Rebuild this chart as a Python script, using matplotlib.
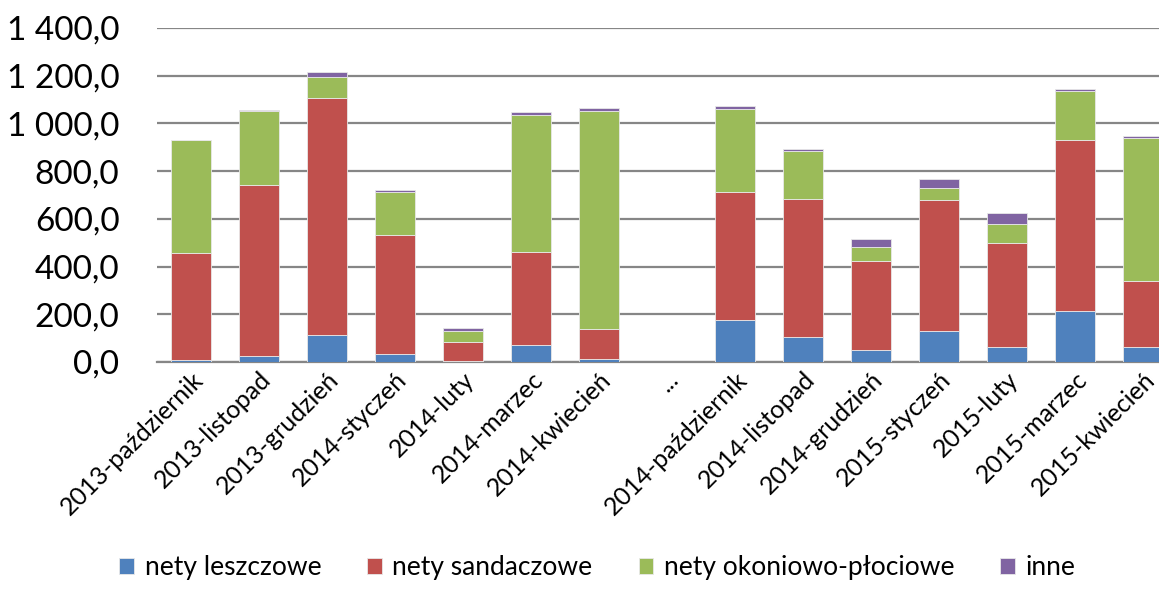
import matplotlib
matplotlib.use('Agg')
import matplotlib.pyplot as plt
import matplotlib.ticker as mticker
import numpy as np

plt.rcParams['font.family'] = ['Lato', 'DejaVu Sans']

# data
months = ['2013-październik', '2013-listopad', '2013-grudzień', '2014-styczeń',
          '2014-luty', '2014-marzec', '2014-kwiecień', '...',
          '2014-październik', '2014-listopad', '2014-grudzień', '2015-styczeń',
          '2015-luty', '2015-marzec', '2015-kwiecień']
leszczowe = [8, 25, 113, 32, 3, 70, 14, 0, 176, 105, 52, 131, 62, 213, 62]
sandaczowe = [447, 715, 993, 502, 82, 393, 126, 0, 537, 580, 373, 546, 436, 716, 276]
okoniowo = [474, 313, 90, 179, 46, 573, 913, 0, 349, 200, 56, 54, 81, 207, 599]
inne = [2, 2, 19, 10, 12, 10, 10, 0, 9, 9, 35, 37, 45, 8, 9]

series = [('nety leszczowe', leszczowe, '#4F81BD'),
          ('nety sandaczowe', sandaczowe, '#C0504D'),
          ('nety okoniowo-płociowe', okoniowo, '#9BBB59'),
          ('inne', inne, '#8064A2')]

fig = plt.figure(figsize=(11.59, 5.89), dpi=100)
ax = fig.add_axes([157 / 1159, 227 / 589, 1020 / 1159, 334 / 589])

x = np.arange(len(months))
bottom = np.zeros(len(months))
for name, vals, col in series:
    vals = np.array(vals, dtype=float)
    ax.bar(x, vals, 0.6, bottom=bottom, color=col, label=name,
           edgecolor='#e8e8e8', linewidth=0.6, zorder=3)
    bottom += vals

ax.set_xlim(-0.5, len(months) - 0.5)
ax.set_ylim(0, 1400)
ax.yaxis.set_major_locator(mticker.MultipleLocator(200))
ax.yaxis.set_major_formatter(mticker.FuncFormatter(
    lambda v, p: ('{:,.1f}'.format(v)).replace(',', ' ').replace('.', ',')))
ax.grid(axis='y', color='#868686', linewidth=1.6, zorder=0)
for s in ['top', 'right', 'left']:
    ax.spines[s].set_visible(False)
ax.spines['bottom'].set_color('#868686')
ax.spines['bottom'].set_linewidth(1.6)
ax.tick_params(axis='y', length=0, labelsize=24, pad=27)
ax.tick_params(axis='x', length=0, labelsize=18, pad=4)
ax.set_xticks(x)
ax.set_xticklabels(months, rotation=45, ha='right', rotation_mode='anchor')

fig.legend(loc='lower center', ncol=4, frameon=False, fontsize=19,
           bbox_to_anchor=(0.5155, -0.025), handlelength=0.55, handleheight=0.55,
           columnspacing=1.75, handletextpad=0.4)

fig.savefig('out.png', dpi=100)
